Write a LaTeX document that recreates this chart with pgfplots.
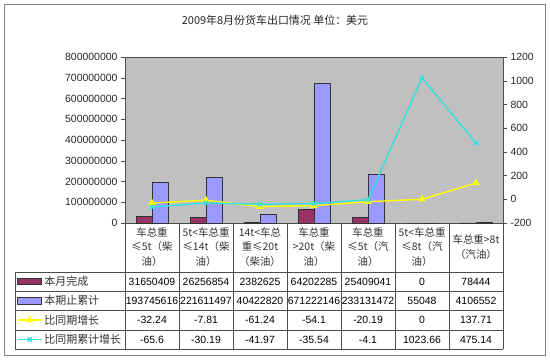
\documentclass[border=0pt]{standalone}
\usepackage{pgfplots}
\pgfplotsset{compat=1.18}
\usepackage{fontspec}
\setmainfont{Liberation Sans}
\newfontfamily\cjk{Noto Sans CJK SC}
\definecolor{barA}{HTML}{993366}
\definecolor{barB}{HTML}{9999FF}
\definecolor{plotbg}{HTML}{C0C0C0}
\definecolor{lineY}{HTML}{FFFF00}
\definecolor{lineC}{HTML}{33E0E0}
\definecolor{frame}{HTML}{808080}
\pgfplotsset{
  mybarlegend/.style={legend image code/.code={\draw[##1] (0bp,-3.25bp) rectangle (24bp,3.25bp);}},
  mylinelegend/.style={legend image code/.code={\draw[mark repeat=2,mark phase=2,##1] plot coordinates {(0bp,0bp)(12bp,0bp)(24bp,0bp)};}},
}
\begin{document}
\begin{tikzpicture}[x=1bp,y=1bp]
\useasboundingbox (0,0) rectangle (550,360);
\fill[white] (0,0) rectangle (550,360);
\begin{axis}[
  at={(125bp,137bp)}, anchor=south west,
  scale only axis, width=378bp, height=166bp,
  xmin=-0.5, xmax=6.5, ymin=0, ymax=800000000,
  xtick=\empty,
  ytick={0,100000000,200000000,300000000,400000000,500000000,600000000,700000000,800000000},
  yticklabels={0,100000000,200000000,300000000,400000000,500000000,600000000,700000000,800000000},
  scaled y ticks=false,
  yticklabel style={font=\fontsize{10.5}{12}\selectfont, text=black!85},
  ytick pos=left, tick align=outside, major tick length=4bp,
  axis background/.style={fill=plotbg},
  axis line style={black!70},
  tick style={black!70},
]
\addplot[ybar, bar width=16bp, bar shift=-8bp, fill=barA, draw=black!80, line width=0.8bp]
  coordinates {(0,31650409) (1,26256854) (2,2382625) (3,64202285) (4,25409041) (5,0) (6,78444)};
\addplot[ybar, bar width=16bp, bar shift=8bp, fill=barB, draw=black!80, line width=0.8bp]
  coordinates {(0,193745616) (1,221611497) (2,40422820) (3,671222146) (4,233131472) (5,55048) (6,4106552)};
\end{axis}
\begin{axis}[
  at={(125bp,137bp)}, anchor=south west,
  scale only axis, width=378bp, height=166bp,
  xmin=-0.5, xmax=6.5, ymin=-200, ymax=1200,
  axis x line=none, axis y line*=right,
  ytick={-200,0,200,400,600,800,1000,1200},
  yticklabels={-200,0,200,400,600,800,1000,1200},
  yticklabel style={font=\fontsize{10.5}{12}\selectfont, text=black!85},
  tick align=outside, major tick length=4bp,
  axis line style={black!70},
  tick style={black!70},
  legend cell align=left,
  legend style={at={(-0.2857,-0.2952)}, anchor=north west, draw=none, fill=none,
    inner sep=0pt, outer sep=0pt, row sep=0pt, column sep=2bp,
    nodes={inner sep=0pt, minimum height=19.25bp},
    font=\cjk\fontsize{11}{13}\selectfont, text=black!80},
]
\addlegendimage{mybarlegend, fill=barA, draw=black!80, line width=0.8bp}
\addlegendentry{本月完成}
\addlegendimage{mybarlegend, fill=barB, draw=black!80, line width=0.8bp}
\addlegendentry{本期止累计}
\addplot[lineY, line width=1.4bp, mark=triangle*, mark size=3bp, mark options={fill=lineY, draw=lineY}, mylinelegend]
  coordinates {(0,-32.24) (1,-7.81) (2,-61.24) (3,-54.1) (4,-20.19) (5,0) (6,137.71)};
\addlegendentry{比同期增长}
\addplot[lineC, line width=1.4bp, mark=x, mark size=3bp, mark options={draw=lineC}, mylinelegend]
  coordinates {(0,-65.6) (1,-30.19) (2,-41.97) (3,-35.54) (4,-4.1) (5,1023.66) (6,475.14)};
\addlegendentry{比同期累计增长}
\end{axis}
\begin{scope}[shift={(0,360)}, yscale=-1]
\draw[frame, line width=0.9bp] (4.5,4.5) rectangle (545.5,355.5);
\foreach \yy in {272,291,310,330,349} { \draw[black!70, line width=0.6bp] (15,\yy) -- (503,\yy); }
\draw[black!70, line width=0.6bp] (15,272) -- (15,349);
\foreach \k in {0,...,7} { \draw[black!70, line width=0.6bp] (125+54*\k,224) -- (125+54*\k,349); }
\node[font=\cjk\fontsize{11}{13}\selectfont, text=black!85] at (275,20) {2009年8月份货车出口情况 单位：美元};
\foreach \k/\t in {0/{车总重\\≤5t（柴\\油）}, 1/{5t<车总重\\≤14t（柴\\油）}, 2/{14t<车总\\重≤20t\\（柴油）}, 3/{车总重\\>20t（柴\\油）}, 4/{车总重\\≤5t（汽\\油）}, 5/{5t<车总重\\≤8t（汽\\油）}, 6/{车总重>8t\\（汽油）}}
  { \node[font=\cjk\fontsize{10.5}{14.5}\selectfont, align=center, text=black!80] at (152+54*\k,247) {\t}; }
\foreach \k/\v in {0/31650409, 1/26256854, 2/2382625, 3/64202285, 4/25409041, 5/0, 6/78444}
  { \node[font=\fontsize{10.5}{12}\selectfont] at (152+54*\k,281.5) {\v}; }
\foreach \k/\v in {0/193745616, 1/221611497, 2/40422820, 3/671222146, 4/233131472, 5/55048, 6/4106552}
  { \node[font=\fontsize{10.5}{12}\selectfont] at (152+54*\k,300.5) {\v}; }
\foreach \k/\v in {0/-32.24, 1/-7.81, 2/-61.24, 3/-54.1, 4/-20.19, 5/0, 6/137.71}
  { \node[font=\fontsize{10.5}{12}\selectfont] at (152+54*\k,320) {\v}; }
\foreach \k/\v in {0/-65.6, 1/-30.19, 2/-41.97, 3/-35.54, 4/-4.1, 5/1023.66, 6/475.14}
  { \node[font=\fontsize{10.5}{12}\selectfont] at (152+54*\k,339.5) {\v}; }
\end{scope}
\end{tikzpicture}
\end{document}
